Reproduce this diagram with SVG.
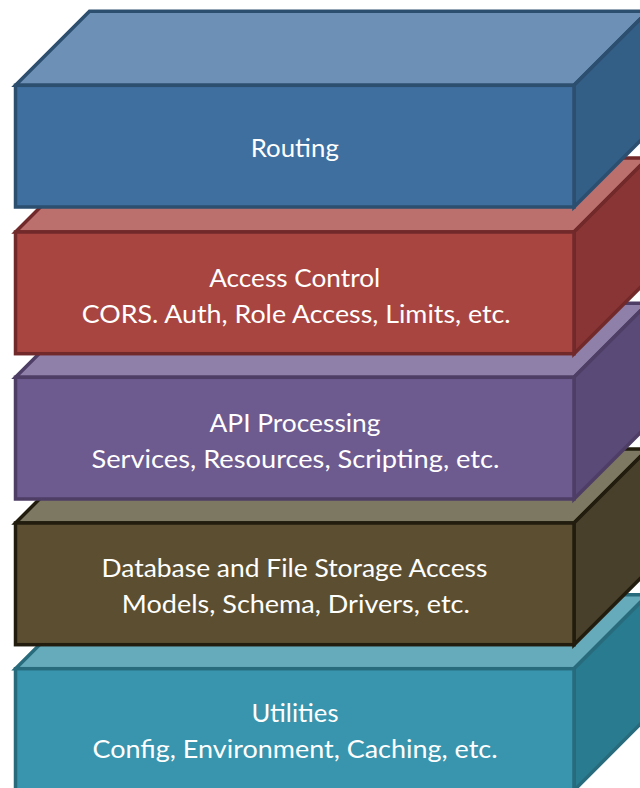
<svg xmlns="http://www.w3.org/2000/svg" width="640" height="788" viewBox="0 0 640 788">
<style>
polygon,rect{stroke-width:3.5;stroke-linejoin:miter}
text{font-family:Lato,"Open Sans","Liberation Sans",sans-serif;font-size:25.5px;fill:#ffffff;text-anchor:middle}
.b1{stroke:#2C4E6F}.b1.f{fill:#3E6F9F}.b1.t{fill:#6D90B7}.b1.r{fill:#335E86}
.b2{stroke:#72292A}.b2.f{fill:#A84540}.b2.t{fill:#BB706E}.b2.r{fill:#8A3535}
.b3{stroke:#4E3E66}.b3.f{fill:#6D5A8F}.b3.t{fill:#8E80A9}.b3.r{fill:#5A4A78}
.b4{stroke:#211C0E}.b4.f{fill:#5C4F31}.b4.t{fill:#7D7862}.b4.r{fill:#48402B}
.b5{stroke:#276B7C}.b5.f{fill:#3895AD}.b5.t{fill:#66ABBC}.b5.r{fill:#297C8F}
</style>
<g id="utilities">
<polygon class="b5 t" points="15.5,668.7 89.5,594.7 648,594.7 574,668.7"/>
<polygon class="b5 r" points="574,668.7 648,594.7 648,716.4 574,790.4"/>
<rect class="b5 f" x="15.5" y="668.7" width="558.5" height="121.7"/>
<text x="295" y="722.3" textLength="87" lengthAdjust="spacingAndGlyphs">Utilities</text>
<text x="295" y="758.3" textLength="405" lengthAdjust="spacingAndGlyphs">Config, Environment, Caching, etc.</text>
</g>
<g id="database">
<polygon class="b4 t" points="15.5,523 89.5,449 648,449 574,523"/>
<polygon class="b4 r" points="574,523 648,449 648,570.7 574,644.7"/>
<rect class="b4 f" x="15.5" y="523" width="558.5" height="121.7"/>
<text x="294.5" y="577.3" textLength="386" lengthAdjust="spacingAndGlyphs">Database and File Storage Access</text>
<text x="295.8" y="613.3" textLength="348" lengthAdjust="spacingAndGlyphs">Models, Schema, Drivers, etc.</text>
</g>
<g id="api">
<polygon class="b3 t" points="15.5,377.3 89.5,303.3 648,303.3 574,377.3"/>
<polygon class="b3 r" points="574,377.3 648,303.3 648,425 574,499"/>
<rect class="b3 f" x="15.5" y="377.3" width="558.5" height="121.7"/>
<text x="295" y="432.3" textLength="171" lengthAdjust="spacingAndGlyphs">API Processing</text>
<text x="295.5" y="468.3" textLength="408" lengthAdjust="spacingAndGlyphs">Services, Resources, Scripting, etc.</text>
</g>
<g id="access">
<polygon class="b2 t" points="15.5,232 89.5,158 648,158 574,232"/>
<polygon class="b2 r" points="574,232 648,158 648,279.7 574,353.7"/>
<rect class="b2 f" x="15.5" y="232" width="558.5" height="121.7"/>
<text x="294.7" y="287.3" textLength="171" lengthAdjust="spacingAndGlyphs">Access Control</text>
<text x="296.2" y="323.3" textLength="429" lengthAdjust="spacingAndGlyphs">CORS. Auth, Role Access, Limits, etc.</text>
</g>
<g id="routing">
<polygon class="b1 t" points="15.5,85.3 89.5,11.3 648,11.3 574,85.3"/>
<polygon class="b1 r" points="574,85.3 648,11.3 648,133 574,207"/>
<rect class="b1 f" x="15.5" y="85.3" width="558.5" height="121.7"/>
<text x="294.8" y="157" textLength="88" lengthAdjust="spacingAndGlyphs">Routing</text>
</g>
<g id="connectors"></g>
</svg>
